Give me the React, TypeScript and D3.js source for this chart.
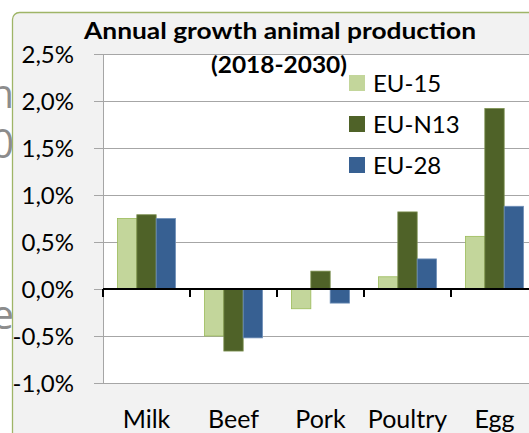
// Annual growth animal production chart, D3 + React
import React, { useEffect, useRef } from 'react';
import * as d3 from 'd3';

const categories = ['Milk', 'Beef', 'Pork', 'Poultry', 'Egg'];
const seriesNames = ['EU-15', 'EU-N13', 'EU-28'];
const eu15 = [0.75, -0.5, -0.21, 0.13, 0.56];
const euN13 = [0.79, -0.66, 0.19, 0.82, 1.92];
const eu28 = [0.75, -0.52, -0.15, 0.32, 0.88];
const yTicks = [2.5, 2.0, 1.5, 1.0, 0.5, 0.0, -0.5, -1.0];
const colors = ['#c3d69b', '#4f6228', '#376092'];
const strokes = ['#9bbb59', '#7a8f4e', '#6f8fb8'];

const App = () => {
  const svgRef = useRef<SVGSVGElement>(null);

  useEffect(() => {
    if (!svgRef.current) return;
    const svg = d3.select(svgRef.current);
    svg.selectAll('*').remove();

    const font = "Lato, 'Open Sans', sans-serif";
    const left = 103;
    const right = 538;
    const top = 54;
    const bottom = 383;

    // stray slide text behind the chart (left edge)
    const bg = svg.append('g').attr('fill', '#8c8c8c').attr('font-family', "'Open Sans', sans-serif").attr('font-size', 40).attr('text-anchor', 'end');
    bg.append('text').attr('x', 14).attr('y', 108).text('n');
    bg.append('text').attr('x', 14).attr('y', 158).text('0');
    bg.append('text').attr('x', 14).attr('y', 329).text('e');

    // chart box
    svg.append('rect')
      .attr('x', 12.5).attr('y', 12.5)
      .attr('width', 560).attr('height', 460)
      .attr('rx', 7)
      .attr('fill', '#f2f2f2')
      .attr('stroke', '#9fb567')
      .attr('stroke-width', 1.3);

    svg.append('rect')
      .attr('x', left).attr('y', top)
      .attr('width', right - left).attr('height', bottom - top)
      .attr('fill', '#ffffff');

    const y = d3.scaleLinear().domain([-1, 2.5]).range([bottom, top]);
    const x0 = d3.scaleBand().domain(categories).range([left, right]).paddingInner(0).paddingOuter(0);
    const x1 = d3.scaleBand().domain(seriesNames).range([0, x0.bandwidth()]).paddingInner(0).paddingOuter(0.75);

    // gridlines and y labels
    const fmt = (v: number) => d3.format('.1f')(v).replace('.', ',').replace('−', '-') + '%';
    yTicks.forEach(t => {
      svg.append('line')
        .attr('x1', left - 9).attr('x2', right)
        .attr('y1', Math.round(y(t)) + 0.5).attr('y2', Math.round(y(t)) + 0.5)
        .attr('stroke', '#a6a6a6').attr('stroke-width', 1);
      svg.append('text')
        .attr('x', 74).attr('y', y(t))
        .attr('dy', '0.36em')
        .attr('text-anchor', 'end')
        .attr('font-family', font).attr('font-size', 24)
        .attr('fill', '#000')
        .text(fmt(t));
    });
    svg.append('line')
      .attr('x1', left + 0.5).attr('x2', left + 0.5)
      .attr('y1', top).attr('y2', bottom)
      .attr('stroke', '#a6a6a6');

    // bars
    const series = [eu15, euN13, eu28];
    categories.forEach((c, i) => {
      series.forEach((vals, s) => {
        const v = vals[i];
        svg.append('rect')
          .attr('x', (x0(c) || 0) + (x1(seriesNames[s]) || 0))
          .attr('y', y(Math.max(0, v)))
          .attr('width', x1.bandwidth())
          .attr('height', Math.abs(y(v) - y(0)))
          .attr('fill', colors[s])
          .attr('stroke', strokes[s])
          .attr('stroke-width', 0.8);
      });
    });

    // zero axis with category ticks
    const zeroY = y(0);
    svg.append('line')
      .attr('x1', left).attr('x2', right)
      .attr('y1', zeroY).attr('y2', zeroY)
      .attr('stroke', '#000').attr('stroke-width', 2);
    categories.concat(['end']).forEach((c, i) => {
      const tx = left + i * x0.step();
      svg.append('line')
        .attr('x1', tx).attr('x2', tx)
        .attr('y1', zeroY).attr('y2', zeroY + 8)
        .attr('stroke', '#000').attr('stroke-width', 2);
    });

    // category labels
    categories.forEach(c => {
      svg.append('text')
        .attr('x', (x0(c) || 0) + x0.bandwidth() / 2)
        .attr('y', 428)
        .attr('text-anchor', 'middle')
        .attr('font-family', font).attr('font-size', 25)
        .attr('fill', '#000')
        .text(c);
    });

    // title
    svg.append('text')
      .attr('x', 84).attr('y', 39)
      .attr('textLength', 392).attr('lengthAdjust', 'spacingAndGlyphs')
      .attr('font-family', font).attr('font-size', 23).attr('font-weight', 'bold')
      .text('Annual growth animal production');
    svg.append('text')
      .attr('x', 211).attr('y', 73)
      .attr('textLength', 136).attr('lengthAdjust', 'spacingAndGlyphs')
      .attr('font-family', font).attr('font-size', 23).attr('font-weight', 'bold')
      .text('(2018-2030)');

    // legend
    seriesNames.forEach((name, s) => {
      const cy = 83 + s * 41;
      svg.append('rect')
        .attr('x', 349).attr('y', cy - 8)
        .attr('width', 16).attr('height', 16)
        .attr('fill', colors[s]);
      svg.append('text')
        .attr('x', 373).attr('y', cy)
        .attr('dy', '0.36em')
        .attr('font-family', font).attr('font-size', 24)
        .text(name);
    });
  }, []);

  return (
    <svg
      ref={svgRef}
      width={529}
      height={433}
      style={{ position: 'absolute', left: 0, top: 0, background: '#ffffff' }}
    />
  );
};

export default App;
